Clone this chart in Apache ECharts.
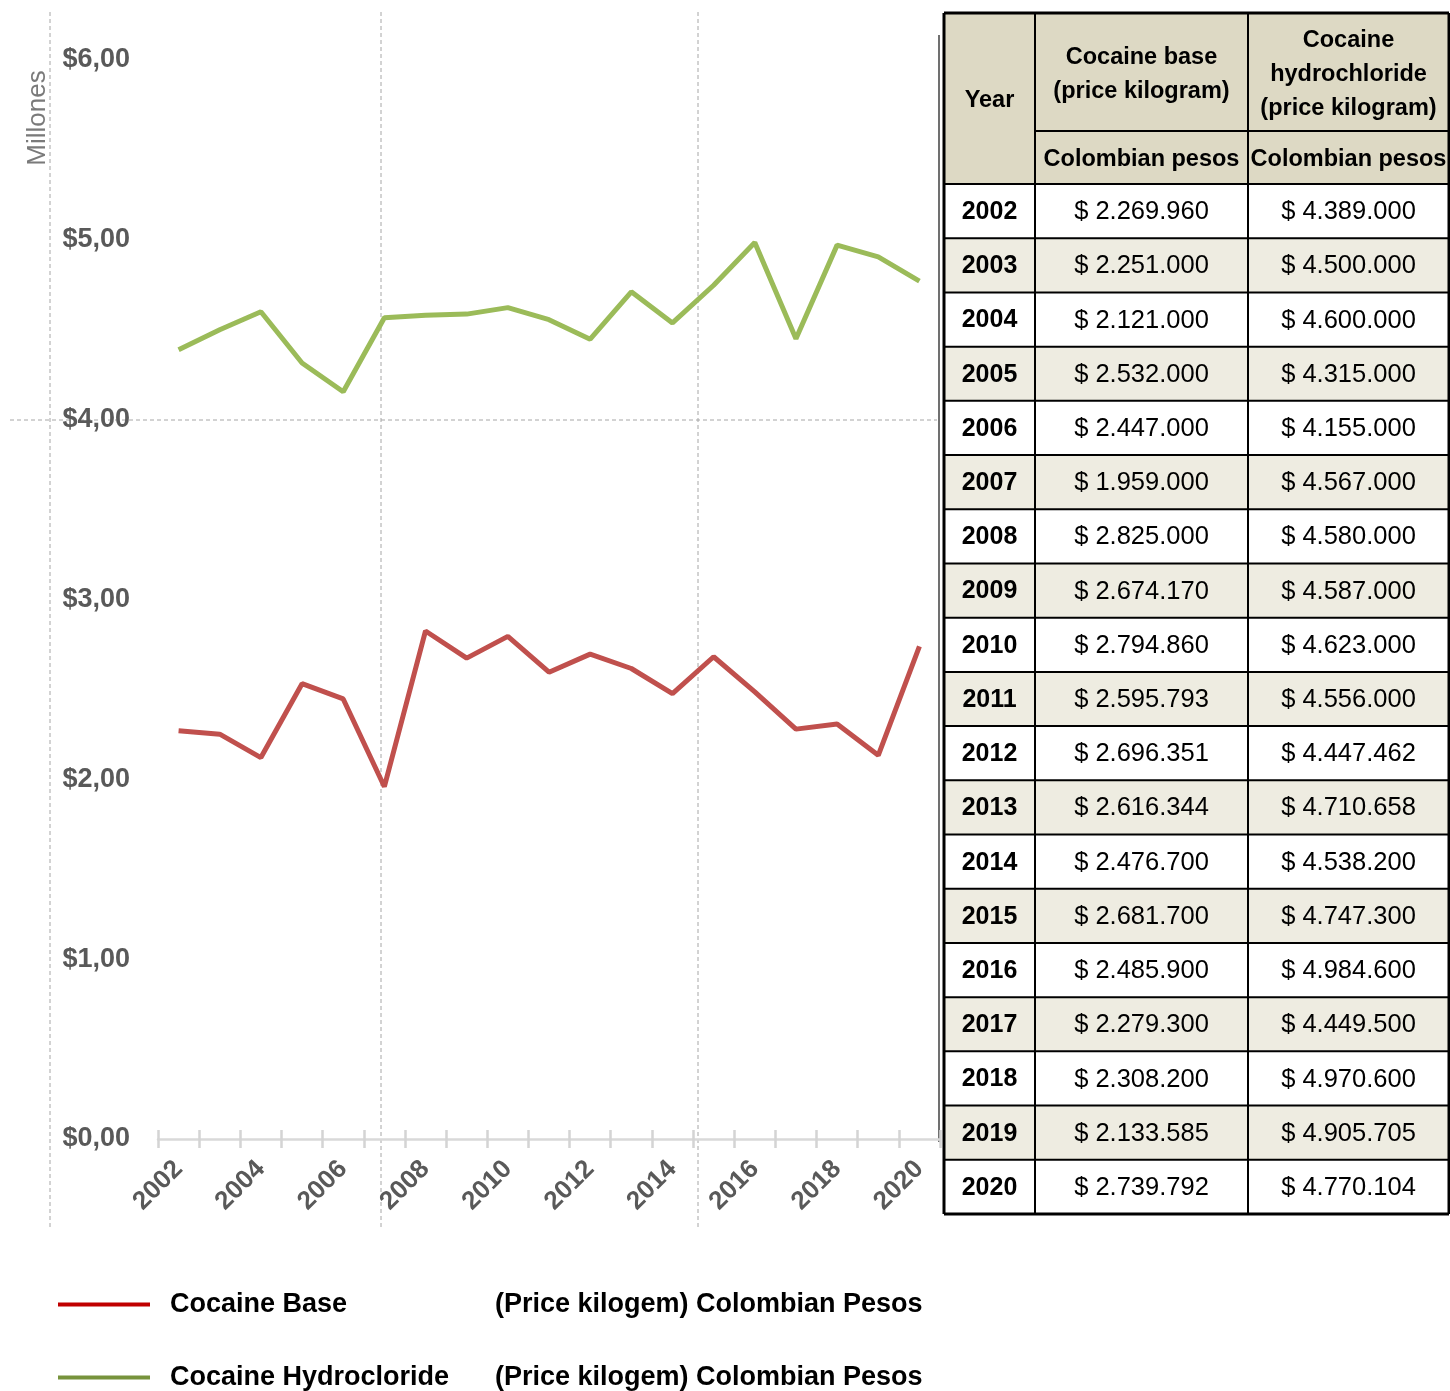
<!DOCTYPE html>
<html>
<head>
<meta charset="utf-8">
<script src="https://cdn.jsdelivr.net/npm/echarts@6/dist/echarts.min.js"></script>
<style>
  html, body { margin: 0; padding: 0; background: #fff; }
  #main { width: 1450px; height: 1391px; }
</style>
</head>
<body>
<div id="main"></div>
<script>
const years = ['2002', '2003', '2004', '2005', '2006', '2007', '2008', '2009', '2010', '2011',
  '2012', '2013', '2014', '2015', '2016', '2017', '2018', '2019', '2020'];
const cocaineBase = [2269960, 2251000, 2121000, 2532000, 2447000, 1959000, 2825000, 2674170, 2794860, 2595793,
  2696351, 2616344, 2476700, 2681700, 2485900, 2279300, 2308200, 2133585, 2739792];
const cocaineHcl = [4389000, 4500000, 4600000, 4315000, 4155000, 4567000, 4580000, 4587000, 4623000, 4556000,
  4447462, 4710658, 4538200, 4747300, 4984600, 4449500, 4970600, 4905705, 4770104];
const seriesNames = ['Cocaine Base', 'Cocaine Hydrocloride'];
const legendSuffix = '(Price kilogem) Colombian Pesos';
const headerTop = ['Year', 'Cocaine base\n(price kilogram)', 'Cocaine\nhydrochloride\n(price kilogram)'];
const headerUnit = 'Colombian pesos';

const FONT = "'Liberation Sans', Arial, sans-serif";

function pesos(n) {
  return '$ ' + String(n).replace(/\B(?=(\d{3})+(?!\d))/g, '.');
}

// table layout
const colX = [944, 1035, 1248, 1449];
const tTop = 13, hRow1 = 131, hRow2 = 184;
const rowH = (1214 - hRow2) / years.length;

let graphic = [];

// page gridlines (dashed)
[50, 381, 698].forEach(function (x) {
  graphic.push({ type: 'line', silent: true, shape: { x1: x, y1: 12, x2: x, y2: 1228 },
    style: { stroke: '#a6a6a6', lineWidth: 1, lineDash: [4, 3] } });
});
graphic.push({ type: 'line', silent: true, shape: { x1: 10, y1: 420, x2: 937, y2: 420 },
  style: { stroke: '#a6a6a6', lineWidth: 1, lineDash: [4, 3] } });
// chart frame edge
graphic.push({ type: 'line', silent: true, shape: { x1: 939, y1: 35, x2: 939, y2: 1142 },
  style: { stroke: '#404040', lineWidth: 1.5 } });

graphic.push({ type: 'text', x: 38, y: 118, rotation: Math.PI / 2, silent: true,
  style: { text: 'Millones', font: '26px ' + FONT, fill: '#7a7a7a', align: 'center', verticalAlign: 'middle' } });

// table fills
graphic.push({ type: 'rect', silent: true, shape: { x: colX[0], y: tTop, width: colX[3] - colX[0], height: hRow2 - tTop },
  style: { fill: '#ddd9c4' } });
years.forEach(function (y, i) {
  graphic.push({ type: 'rect', silent: true,
    shape: { x: colX[0], y: hRow2 + i * rowH, width: colX[3] - colX[0], height: rowH },
    style: { fill: i % 2 ? '#eeece1' : '#ffffff' } });
});

// header text
const headCx = [(colX[0] + colX[1]) / 2, (colX[1] + colX[2]) / 2, (colX[2] + colX[3]) / 2];
const HFONT = 'bold 23.5px ' + FONT;
graphic.push({ type: 'text', x: headCx[0], y: 101, silent: true,
  style: { text: headerTop[0], font: HFONT, fill: '#000', align: 'center', verticalAlign: 'middle' } });
graphic.push({ type: 'text', x: headCx[1], y: 75, silent: true,
  style: { text: headerTop[1], font: HFONT, lineHeight: 34, fill: '#000', align: 'center', verticalAlign: 'middle' } });
graphic.push({ type: 'text', x: headCx[2], y: 75, silent: true,
  style: { text: headerTop[2], font: HFONT, lineHeight: 34, fill: '#000', align: 'center', verticalAlign: 'middle' } });
[1, 2].forEach(function (c) {
  graphic.push({ type: 'text', x: headCx[c], y: 160, silent: true,
    style: { text: headerUnit, font: HFONT, fill: '#000', align: 'center', verticalAlign: 'middle' } });
});

// body text
years.forEach(function (y, i) {
  const cy = hRow2 + i * rowH + rowH / 2 + 1;
  graphic.push({ type: 'text', x: headCx[0], y: cy, silent: true,
    style: { text: y, font: 'bold 25px ' + FONT, fill: '#000', align: 'center', verticalAlign: 'middle' } });
  graphic.push({ type: 'text', x: headCx[1], y: cy, silent: true,
    style: { text: pesos(cocaineBase[i]), font: '25.5px ' + FONT, fill: '#000', align: 'center', verticalAlign: 'middle' } });
  graphic.push({ type: 'text', x: headCx[2], y: cy, silent: true,
    style: { text: pesos(cocaineHcl[i]), font: '25.5px ' + FONT, fill: '#000', align: 'center', verticalAlign: 'middle' } });
});

// table borders
const bottom = hRow2 + years.length * rowH;
function hline(y, x1, x2, w) {
  graphic.push({ type: 'line', silent: true, shape: { x1: x1, y1: y, x2: x2, y2: y }, style: { stroke: '#000', lineWidth: w } });
}
function vline(x, y1, y2, w) {
  graphic.push({ type: 'line', silent: true, shape: { x1: x, y1: y1, x2: x, y2: y2 }, style: { stroke: '#000', lineWidth: w } });
}
hline(tTop, colX[0], colX[3], 3);
hline(hRow1, colX[1], colX[3], 2);
for (let i = 0; i <= years.length; i++) {
  hline(hRow2 + i * rowH, colX[0], colX[3], i === years.length ? 3 : 2);
}
colX.forEach(function (x, k) {
  vline(x, tTop, bottom, (k === 0 || k === 3) ? 3 : 2);
});

let option = {
  animation: false,
  backgroundColor: '#fff',
  grid: { left: 158, right: 510, top: 60, bottom: 252, containLabel: false },
  legend: {
    orient: 'vertical',
    left: 58,
    top: 1291,
    padding: 0,
    itemWidth: 92,
    itemHeight: 4,
    itemGap: 46,
    icon: 'rect',
    selectedMode: false,
    data: [
      { name: seriesNames[0], itemStyle: { color: '#c00000' } },
      { name: seriesNames[1], itemStyle: { color: '#77933c' } }
    ],
    formatter: function (name) {
      return '{a|' + name + '}{b|' + legendSuffix + '}';
    },
    textStyle: {
      rich: {
        a: { width: 325, padding: [0, 0, 0, 15], fontSize: 27, fontWeight: 'bold', fontFamily: FONT, color: '#000', lineHeight: 30 },
        b: { fontSize: 27, fontWeight: 'bold', fontFamily: FONT, color: '#000', lineHeight: 30 }
      }
    }
  },
  xAxis: [{
    type: 'category',
    data: years,
    boundaryGap: true,
    axisLine: { show: true, lineStyle: { color: '#d9d9d9', width: 2.5 } },
    axisTick: { show: true, interval: 0, length: 9, lineStyle: { color: '#d4d4d4', width: 2.5 } },
    axisLabel: { interval: 1, rotate: 45, margin: 26, fontSize: 26, fontWeight: 'bold', fontFamily: FONT, color: '#595959' },
    splitLine: { show: false }
  }, {
    type: 'category',
    data: years,
    position: 'bottom',
    boundaryGap: true,
    axisLine: { show: false },
    axisTick: { show: true, interval: 0, inside: true, length: 9, lineStyle: { color: '#d4d4d4', width: 2.5 } },
    axisLabel: { show: false },
    splitLine: { show: false }
  }],
  yAxis: {
    type: 'value',
    min: 0,
    max: 6,
    interval: 1,
    axisLine: { show: false },
    axisTick: { show: false },
    splitLine: { show: false },
    axisLabel: {
      margin: 28,
      padding: [6, 0, 0, 0],
      fontSize: 27,
      fontWeight: 'bold',
      fontFamily: FONT,
      color: '#595959',
      formatter: function (v) { return '$' + v.toFixed(2).replace('.', ','); }
    }
  },
  graphic: graphic,
  series: [{
    name: seriesNames[0],
    type: 'line',
    symbol: 'none',
    data: cocaineBase.map(v => v / 1e6),
    lineStyle: { width: 5, color: '#c0504d' },
    itemStyle: { color: '#c0504d' },
    z: 3
  }, {
    name: seriesNames[1],
    type: 'line',
    symbol: 'none',
    data: cocaineHcl.map(v => v / 1e6),
    lineStyle: { width: 5, color: '#9bbb59' },
    itemStyle: { color: '#9bbb59' },
    z: 3
  }]
};

let myChart = echarts.init(document.getElementById('main'));
myChart.setOption(option);
</script>
</body>
</html>
